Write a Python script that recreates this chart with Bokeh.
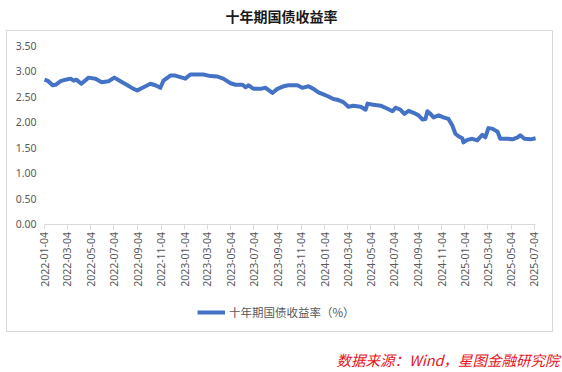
import pandas as pd
from bokeh.plotting import figure
from bokeh.models import (Range1d, FixedTicker, DatetimeTickFormatter, PrintfTickFormatter,
                          Legend, LegendItem, ColumnDataSource, Label, InlineStyleSheet)
from bokeh.embed import file_html
from bokeh.resources import INLINE

title_text = "十年期国债收益率"
series_name = "十年期国债收益率（%）"
source_text = "数据来源：Wind，星图金融研究院"

dates = [
    "2022-01-04", "2022-01-14", "2022-01-25", "2022-02-02", "2022-02-15", "2022-02-28",
    "2022-03-13", "2022-03-21", "2022-03-28", "2022-04-10", "2022-04-29", "2022-05-17",
    "2022-06-02", "2022-06-20", "2022-07-05", "2022-07-21", "2022-08-06", "2022-08-24",
    "2022-09-03", "2022-09-19", "2022-10-07", "2022-10-20", "2022-11-02", "2022-11-10",
    "2022-11-28", "2022-12-11", "2022-12-24", "2023-01-06", "2023-01-19", "2023-02-07",
    "2023-02-22", "2023-03-13", "2023-03-31", "2023-04-15", "2023-05-04", "2023-05-17",
    "2023-06-04", "2023-06-12", "2023-06-20", "2023-07-03", "2023-07-21", "2023-08-03",
    "2023-08-21", "2023-09-03", "2023-09-19", "2023-10-02", "2023-10-12", "2023-10-25",
    "2023-11-07", "2023-11-23", "2023-12-06", "2023-12-19", "2024-01-01", "2024-01-14",
    "2024-01-27", "2024-02-09", "2024-02-22", "2024-03-06", "2024-03-19", "2024-04-07",
    "2024-04-20", "2024-04-25", "2024-05-10", "2024-05-29", "2024-06-16", "2024-06-29",
    "2024-07-07", "2024-07-20", "2024-07-30", "2024-08-10", "2024-08-23", "2024-09-05",
    "2024-09-15", "2024-09-23", "2024-09-28", "2024-10-06", "2024-10-14", "2024-10-27",
    "2024-11-09", "2024-11-22", "2024-12-02", "2024-12-10", "2024-12-18", "2024-12-28",
    "2024-12-31", "2025-01-10", "2025-01-23", "2025-02-05", "2025-02-18", "2025-02-26",
    "2025-03-06", "2025-03-16", "2025-03-30", "2025-04-06", "2025-04-25", "2025-05-08",
    "2025-05-21", "2025-05-28", "2025-06-08", "2025-06-24", "2025-07-07",
]
yields = [
    2.83, 2.80, 2.72, 2.73, 2.80, 2.83,
    2.85, 2.81, 2.83, 2.75, 2.87, 2.85,
    2.78, 2.80, 2.87, 2.80, 2.73, 2.65,
    2.62, 2.68, 2.75, 2.72, 2.67, 2.81,
    2.91, 2.91, 2.88, 2.85, 2.93, 2.93,
    2.93, 2.90, 2.89, 2.85, 2.76, 2.73,
    2.73, 2.68, 2.72, 2.65, 2.65, 2.67,
    2.57, 2.65, 2.70, 2.72, 2.72, 2.72,
    2.67, 2.70, 2.65, 2.58, 2.54, 2.50,
    2.45, 2.43, 2.39, 2.30, 2.32, 2.30,
    2.24, 2.36, 2.34, 2.32, 2.26, 2.21,
    2.28, 2.24, 2.16, 2.22, 2.18, 2.13,
    2.05, 2.06, 2.21, 2.16, 2.09, 2.13,
    2.09, 2.06, 1.93, 1.77, 1.72, 1.68,
    1.60, 1.65, 1.67, 1.64, 1.75, 1.70,
    1.88, 1.87, 1.81, 1.67, 1.67, 1.66,
    1.70, 1.74, 1.67, 1.66, 1.68,
]
tick_labels = [
    "2022-01-04", "2022-03-04", "2022-05-04", "2022-07-04", "2022-09-04", "2022-11-04",
    "2023-01-04", "2023-03-04", "2023-05-04", "2023-07-04", "2023-09-04", "2023-11-04",
    "2024-01-04", "2024-03-04", "2024-05-04", "2024-07-04", "2024-09-04", "2024-11-04",
    "2025-01-04", "2025-03-04", "2025-05-04", "2025-07-04",
]
y_ticks = [0.0, 0.5, 1.0, 1.5, 2.0, 2.5, 3.0, 3.5]
x_first, x_last = "2022-01-04", "2025-07-12"   # extent of the plotted date axis
y_min, y_max = 0.0, 3.5

W, H = 562, 372
# plot area inside the canvas (pixels): left, right, top, bottom
PL, PR, PT, PB = 44, 537, 45, 223.5

t0 = pd.Timestamp(x_first)
t1 = pd.Timestamp(x_last)
ms_per_px = (t1 - t0) / (PR - PL)
x_range = Range1d(t0 - ms_per_px * PL, t1 + ms_per_px * (W - PR))
u_per_px = (y_max - y_min) / (PB - PT)
y_range = Range1d(y_min - u_per_px * (H - PB), y_max + u_per_px * PT)

src = ColumnDataSource(dict(x=pd.to_datetime(dates), y=yields))
tick_ms = [pd.Timestamp(t).value / 1e6 for t in tick_labels]

GRAY = "#595959"
FONT = "Noto Sans"
CJK = "Noto Sans CJK SC"

p = figure(width=W, height=H, output_backend="svg", toolbar_location=None,
           x_axis_type="datetime", x_range=x_range, y_range=y_range,
           min_border=0)
p.outline_line_color = None
p.xgrid.visible = False
p.ygrid.visible = False
p.background_fill_color = "white"
p.border_fill_color = "white"

# light border of the chart area
p.stylesheets = [InlineStyleSheet(css=(
    ":host::after { content: ''; position: absolute; left: 6px; top: 30px; "
    "width: 545px; height: 300px; border: 1px solid #d9d9d9; pointer-events: none; }"
))]

line = p.line("x", "y", source=src, line_color="#4472C4", line_width=4, line_join="round")

xa = p.xaxis[0]
xa.fixed_location = y_min
xa.bounds = (t0.value / 1e6, t1.value / 1e6 - 6 * 86400000)
xa.ticker = FixedTicker(ticks=tick_ms)
fmt = "%Y-%m-%d"
xa.formatter = DatetimeTickFormatter(days=fmt, months=fmt, years=fmt, hours=fmt,
                                     minutes=fmt, seconds=fmt, milliseconds=fmt,
                                     microseconds=fmt, hourmin=fmt, minsec=fmt)
xa.major_label_orientation = 1.5708
xa.axis_line_color = "#d9d9d9"
xa.major_tick_line_color = "#d9d9d9"
xa.major_tick_in = 0
xa.major_tick_out = 5
xa.minor_tick_line_color = None
xa.major_label_standoff = 3
xa.major_label_text_font = FONT
xa.major_label_text_font_size = "10.5px"
xa.major_label_text_color = GRAY

ya = p.yaxis[0]
ya.fixed_location = t0.value / 1e6
ya.bounds = (y_min, y_max)
ya.ticker = FixedTicker(ticks=y_ticks)
ya.formatter = PrintfTickFormatter(format="%.2f")
ya.axis_line_color = None
ya.major_tick_line_color = None
ya.minor_tick_line_color = None
ya.major_tick_in = 0
ya.major_tick_out = 0
ya.major_label_standoff = 8
ya.major_label_text_font = FONT
ya.major_label_text_font_size = "10.5px"
ya.major_label_text_color = GRAY

legend = Legend(items=[LegendItem(label=series_name, renderers=[line])],
                location=(197, H - 322), orientation="horizontal",
                glyph_width=28, glyph_height=20, label_standoff=4,
                padding=0, margin=0, spacing=0,
                border_line_color=None, background_fill_alpha=0,
                label_text_font=CJK, label_text_font_size="11.5px",
                label_text_color=GRAY)
p.add_layout(legend)

p.add_layout(Label(x=281, y=H - 15, x_units="screen", y_units="screen", text=title_text,
                   text_align="center", text_baseline="middle",
                   text_font=CJK, text_font_style="bold",
                   text_font_size="14px", text_color="#1a1a1a"))
p.add_layout(Label(x=559, y=H - 359, x_units="screen", y_units="screen", text=source_text,
                   text_align="right", text_baseline="middle",
                   text_font=CJK, text_font_style="italic",
                   text_font_size="14.5px", text_color="#e5141b"))

open("out.html", "w").write(file_html(p, INLINE))
